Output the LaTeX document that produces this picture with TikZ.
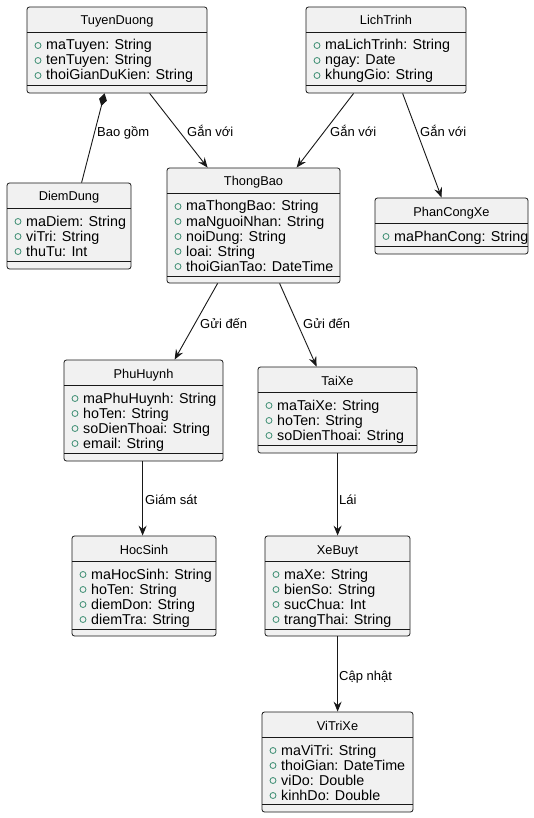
\documentclass[tikz,border=0pt]{standalone}
\usepackage{fontspec}
\setmainfont{Liberation Sans}
\usetikzlibrary{arrows.meta,fit,calc}
\definecolor{boxfill}{HTML}{F1F1F1}
\definecolor{boxline}{HTML}{181818}
\definecolor{pubc}{HTML}{3A8C70}
\tikzset{
  x=1pt, y=-1pt,
  umlbox/.style={draw=boxline, fill=boxfill, line width=0.8pt, rounded corners=2.5pt, inner sep=0pt},
  sepline/.style={draw=boxline, line width=0.8pt},
  titletext/.style={inner sep=0pt, font=\fontsize{12.8}{14}\selectfont, text height=9.5pt, text depth=2.5pt},
  attrtext/.style={anchor=west, inner sep=0pt, font=\fontsize{14.3}{16}\selectfont, text height=10pt, text depth=3pt},
  pubmark/.style={draw=pubc, fill=boxfill, line width=0.8pt},
  assoc/.style={draw=boxline, line width=0.9pt, -{Stealth[length=10pt,width=8pt,inset=3.5pt]}},
  compo/.style={draw=boxline, line width=0.9pt, {Diamond[length=13pt,width=8pt,fill=boxline]}-},
  linklabel/.style={anchor=west, inner sep=0pt, font=\fontsize{13}{15}\selectfont, text height=9.5pt, text depth=3pt}
}
\newcommand{\umlbox}[8]{%
  \node[umlbox, fit={(#2,#3) (#4,#5)}] (#1) {};
  \draw[sepline] (#2,#6) -- (#4,#6);
  \draw[sepline] (#2,#7) -- (#4,#7);
  \node[titletext] (#1-title) at ({(#2+#4)/2},{(#3+#6)/2+2}) {#8};
}
\newcommand{\umlattr}[4]{%
  \draw[pubmark] ({#2+11},{#3+0.5}) circle (3pt);
  \node[attrtext] (#1) at ({#2+19},{#3+1.5}) {#4};
}
\begin{document}
\begin{tikzpicture}
\fill[white] (0,0) rectangle (534,818);
\useasboundingbox (0,0) rectangle (534,818);

% TuyenDuong
\umlbox{tuyen}{27}{7}{207}{93}{32}{85}{TuyenDuong}
\umlattr{tuyen-a1}{27}{45}{maTuyen: String}
\umlattr{tuyen-a2}{27}{60}{tenTuyen: String}
\umlattr{tuyen-a3}{27}{75}{thoiGianDuKien: String}

% LichTrinh
\umlbox{lich}{306}{7}{466}{93}{32}{85}{LichTrinh}
\umlattr{lich-a1}{306}{45}{maLichTrinh: String}
\umlattr{lich-a2}{306}{60}{ngay: Date}
\umlattr{lich-a3}{306}{75}{khungGio: String}

% DiemDung
\umlbox{diem}{7}{183}{131}{269}{208}{261}{DiemDung}
\umlattr{diem-a1}{7}{221}{maDiem: String}
\umlattr{diem-a2}{7}{236}{viTri: String}
\umlattr{diem-a3}{7}{251}{thuTu: Int}

% ThongBao
\umlbox{thong}{167}{168}{340}{283}{193}{276}{ThongBao}
\umlattr{thong-a1}{167}{206}{maThongBao: String}
\umlattr{thong-a2}{167}{221}{maNguoiNhan: String}
\umlattr{thong-a3}{167}{236}{noiDung: String}
\umlattr{thong-a4}{167}{251}{loai: String}
\umlattr{thong-a5}{167}{266}{thoiGianTao: DateTime}

% PhanCongXe
\umlbox{phan}{375}{198}{528}{254}{223}{246}{PhanCongXe}
\umlattr{phan-a1}{375}{236}{maPhanCong: String}

% PhuHuynh
\umlbox{phu}{64}{360}{223}{461}{385}{453}{PhuHuynh}
\umlattr{phu-a1}{64}{398}{maPhuHuynh: String}
\umlattr{phu-a2}{64}{413}{hoTen: String}
\umlattr{phu-a3}{64}{428}{soDienThoai: String}
\umlattr{phu-a4}{64}{443}{email: String}

% TaiXe
\umlbox{tai}{258}{367}{417}{453}{392}{445}{TaiXe}
\umlattr{tai-a1}{258}{405}{maTaiXe: String}
\umlattr{tai-a2}{258}{420}{hoTen: String}
\umlattr{tai-a3}{258}{435}{soDienThoai: String}

% HocSinh
\umlbox{hoc}{72}{536}{216}{636}{561}{629}{HocSinh}
\umlattr{hoc-a1}{72}{574}{maHocSinh: String}
\umlattr{hoc-a2}{72}{589}{hoTen: String}
\umlattr{hoc-a3}{72}{604}{diemDon: String}
\umlattr{hoc-a4}{72}{619}{diemTra: String}

% XeBuyt
\umlbox{xe}{265}{536}{410}{636}{561}{629}{XeBuyt}
\umlattr{xe-a1}{265}{574}{maXe: String}
\umlattr{xe-a2}{265}{589}{bienSo: String}
\umlattr{xe-a3}{265}{604}{sucChua: Int}
\umlattr{xe-a4}{265}{619}{trangThai: String}

% ViTriXe
\umlbox{vitri}{262}{712}{413}{812}{737}{804}{ViTriXe}
\umlattr{vitri-a1}{262}{750}{maViTri: String}
\umlattr{vitri-a2}{262}{765}{thoiGian: DateTime}
\umlattr{vitri-a3}{262}{780}{viDo: Double}
\umlattr{vitri-a4}{262}{795}{kinhDo: Double}

% connectors
\draw[compo] ([xshift=78pt]tuyen.south west) -- ([xshift=75pt]diem.north west);
\draw[assoc] ([xshift=123pt]tuyen.south west) -- ([xshift=41pt]thong.north west);
\draw[assoc] ([xshift=48pt]lich.south west) -- ([xshift=130pt]thong.north west);
\draw[assoc] ([xshift=97pt]lich.south west) -- ([xshift=67pt]phan.north west);
\draw[assoc] ([xshift=51pt]thong.south west) -- ([xshift=111pt]phu.north west);
\draw[assoc] ([xshift=113pt]thong.south west) -- ([xshift=59pt]tai.north west);
\draw[assoc] ([xshift=79pt]phu.south west) -- ([xshift=71pt]hoc.north west);
\draw[assoc] ([xshift=80pt]tai.south west) -- ([xshift=73pt]xe.north west);
\draw[assoc] ([xshift=73pt]xe.south west) -- ([xshift=76pt]vitri.north west);

% labels
\node[linklabel] (l1) at (97,133) {Bao gồm};
\node[linklabel] (l2) at (187,133) {Gắn với};
\node[linklabel] (l3) at (330,133) {Gắn với};
\node[linklabel] (l4) at (420,133) {Gắn với};
\node[linklabel] (l5) at (200,325) {Gửi đến};
\node[linklabel] (l6) at (303,325) {Gửi đến};
\node[linklabel] (l7) at (145,501) {Giám sát};
\node[linklabel] (l8) at (339,501) {Lái};
\node[linklabel] (l9) at (339,677) {Cập nhật};
\end{tikzpicture}
\end{document}
